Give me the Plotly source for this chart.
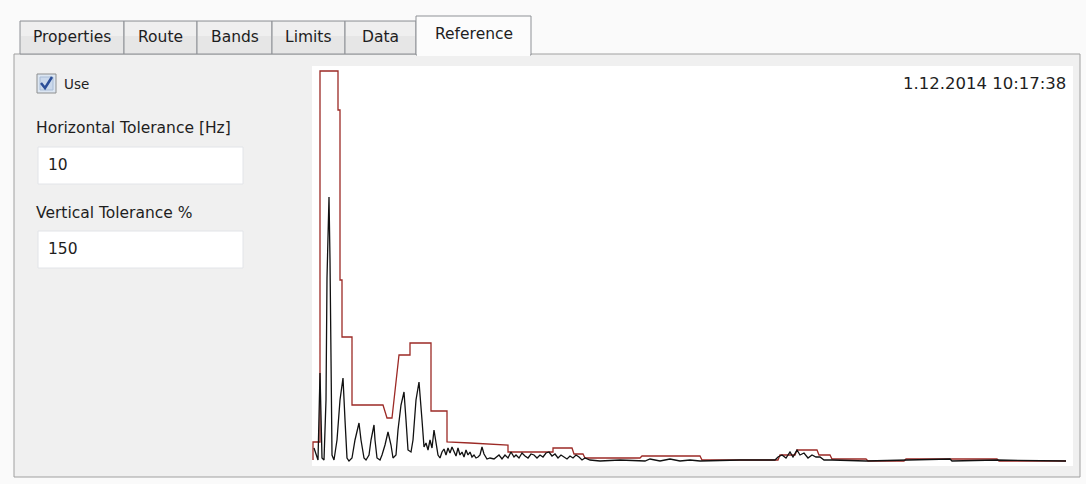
import plotly.graph_objects as go

W, H = 1086, 484
X0, Y0 = 312, 462  # pixel origin of the data (x offset, zero line)

# ---- data (frequency offset, amplitude) ----
ref_freq = [1, 1, 8, 8, 26, 26, 28, 28, 30, 30, 40, 40, 71, 75, 80, 87, 98, 98, 119, 119,
            135, 135, 158, 196, 196, 241, 241, 260, 262, 271, 273, 328, 330, 388, 390,
            466, 468, 483, 485, 505, 507, 518, 520, 554, 556, 592, 594, 685, 687, 754]
ref_ampl = [2, 20, 20, 391, 391, 352, 352, 182, 182, 125, 125, 57, 57, 44, 44, 107, 107, 119, 119, 51,
            51, 20, 19, 17, 10, 10, 14, 14, 8, 8, 4, 4, 6, 6, 2,
            2, 7, 7, 12, 12, 7, 7, 3, 3, 1, 1, 3, 3, 1, 1]

sig_freq = [2, 5, 6, 8, 10, 12, 14, 15, 17, 18, 20, 22, 25, 28, 31, 33, 35, 37, 40, 43, 45, 47,
            49, 52, 54, 57, 59, 62, 63, 65, 68, 70, 73, 76, 79, 81, 84, 86, 89, 92, 94, 96, 99,
            101, 104, 107, 110, 112, 114, 116, 118, 120, 122, 124, 126, 128, 130, 132, 134, 136,
            138, 140, 142, 144, 146, 148, 150, 152, 154, 156, 158, 160, 162, 164, 166, 168, 170,
            172, 175, 178, 182, 185, 187, 190, 193, 196, 199, 202, 204, 207, 210, 213, 216, 219,
            222, 225, 228, 231, 234, 237, 240, 243, 246, 249, 252, 255, 258, 261, 264, 267, 270,
            273, 278, 288, 308, 333, 338, 348, 358, 368, 378, 388, 428, 463, 466, 470, 474, 478,
            481, 485, 488, 492, 496, 500, 504, 508, 512, 516, 520, 554, 592, 618, 638, 640, 685, 754]
sig_ampl = [14, 4, 2, 89, 4, 2, 62, 184, 265, 202, 7, 2, 22, 62, 84, 42, 4, 1, 4, 22, 32, 39,
            22, 4, 2, 7, 22, 37, 22, 4, 2, 7, 17, 30, 17, 4, 7, 32, 57, 70, 42, 12, 10, 22,
            62, 80, 42, 15, 19, 12, 22, 14, 32, 17, 7, 4, 10, 13, 7, 14, 9, 15, 11, 6, 14, 7,
            10, 5, 12, 7, 10, 5, 7, 4, 5, 7, 15, 8, 3, 4, 3, 5, 7, 3, 7, 4, 10, 5, 7, 4, 9, 6,
            4, 8, 7, 4, 7, 5, 9, 10, 6, 8, 4, 7, 5, 3, 6, 4, 7, 5, 2, 4, 2, 1, 2, 1, 3, 1, 3,
            1, 2, 1, 2, 2, 5, 7, 4, 10, 5, 12, 7, 9, 4, 7, 5, 5, 2, 2, 2, 1, 2, 2, 3, 1, 2, 1, 1]

tab_names = ["Properties", "Route", "Bands", "Limits", "Data", "Reference"]
tab_edges = [20, 124, 197, 272, 345, 416, 531]
timestamp = "1.12.2014 10:17:38"
h_tol_label, h_tol_value = "Horizontal Tolerance [Hz]", "10"
v_tol_label, v_tol_value = "Vertical Tolerance %", "150"

FONT = "DejaVu Sans"


def fx(x):
    return x / W


def fy(y):
    return 1 - y / H


shapes = []
annos = []


def rect(x0, y0, x1, y1, fill, line=None, lw=1):
    shapes.append(dict(type="rect", xref="paper", yref="paper", x0=fx(x0), x1=fx(x1),
                       y0=fy(y1), y1=fy(y0), fillcolor=fill,
                       line=dict(color=line or fill, width=lw if line else 0), layer="below"))


def hline(x0, x1, y, color, lw=1):
    shapes.append(dict(type="line", xref="paper", yref="paper", x0=fx(x0), x1=fx(x1),
                       y0=fy(y), y1=fy(y), line=dict(color=color, width=lw), layer="below"))


def text(x, y, s, size=15.5, color="#1E1E1E", anchor="left"):
    annos.append(dict(xref="paper", yref="paper", x=fx(x), y=fy(y), text=s, showarrow=False,
                      xanchor=anchor, yanchor="middle", borderpad=0,
                      font=dict(family=FONT, size=size, color=color)))


x_lo, x_hi = 312, 1073
y_top, y_bot = 66, 466

# page & panel
rect(0, 0, W, H, "#FAFAFA")
rect(14, 54, 1080, 477, "#F0F0F0", "#A0A0A0")
rect(x_lo, y_top, x_hi, y_bot, "#FFFFFF")

# tabs
for i, name in enumerate(tab_names):
    xa, xb = tab_edges[i], tab_edges[i + 1]
    if i == len(tab_names) - 1:
        rect(xa, 16, xb, 55, "#FCFCFC", "#8E9196")
        hline(xa + 1, xb - 1, 55, "#FCFCFC", 2)
        text((xa + xb) / 2, 34, name, size=15.5, anchor="center")
    else:
        rect(xa, 21, xb, 54, "#E6E6E6", "#8E9196")
        rect(xa + 1, 22, xb - 1, 36, "#EFEFEF")
        text((xa + xb) / 2, 37, name, size=15.5, anchor="center")

# checkbox
rect(37, 74, 56, 93, "#DCE6F2", "#8E8F8F")
rect(40, 77, 53, 90, "#CBD9EC", "#A9BCD6")
shapes.append(dict(type="path", xref="paper", yref="paper",
                   path=f"M {fx(41)},{fy(83)} L {fx(45)},{fy(88)} L {fx(52)},{fy(77)}",
                   line=dict(color="#2B4E98", width=2.5)))
text(63, 84, "Use", size=13.5)

# tolerance fields
text(35, 128, h_tol_label)
rect(38, 147, 243, 184, "#FFFFFF", "#E2E4E8")
text(47, 165, h_tol_value)
text(35, 213, v_tol_label)
rect(38, 231, 243, 268, "#FFFFFF", "#E2E4E8")
text(47, 249, v_tol_value)

# timestamp
text(1067, 83, timestamp, size=16.5, anchor="right")

fig = go.Figure()
fig.add_trace(go.Scatter(x=ref_freq, y=ref_ampl, mode="lines",
                         line=dict(color="#9C2A26", width=1.3), hoverinfo="skip"))
fig.add_trace(go.Scatter(x=sig_freq, y=sig_ampl, mode="lines",
                         line=dict(color="#111111", width=1.3), hoverinfo="skip"))

fig.update_layout(
    width=W, height=H, autosize=False, margin=dict(l=0, r=0, t=0, b=0),
    paper_bgcolor="#FAFAFA", plot_bgcolor="rgba(0,0,0,0)", showlegend=False,
    shapes=shapes, annotations=annos,
    xaxis=dict(domain=[fx(x_lo), fx(x_hi)], range=[x_lo - X0, x_hi - X0],
               showgrid=False, zeroline=False, showticklabels=False, ticks="", fixedrange=True),
    yaxis=dict(domain=[fy(y_bot), fy(y_top)], range=[Y0 - y_bot, Y0 - y_top],
               showgrid=False, zeroline=False, showticklabels=False, ticks="", fixedrange=True),
)
fig.write_html("out.html", config={"displayModeBar": False},
               post_script="document.body.style.margin='0';document.body.style.overflow='hidden';")
